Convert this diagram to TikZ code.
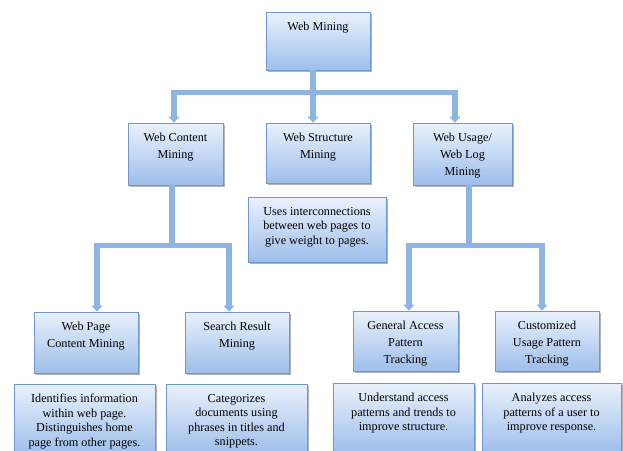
\documentclass[tikz,border=0pt]{standalone}
\usepackage{fontspec}
\setmainfont{Liberation Serif}
\usetikzlibrary{shadows,arrows.meta}
\definecolor{boxline}{RGB}{112,152,208}
\definecolor{boxtop}{RGB}{234,241,252}
\definecolor{boxbot}{RGB}{158,190,235}
\definecolor{linkblue}{RGB}{141,180,226}
\begin{document}
\begin{tikzpicture}[x=1pt, y=-1pt,
  box/.style={draw=boxline, thick, top color=boxtop, bottom color=boxbot, inner sep=0pt,
    drop shadow={shadow xshift=1.5pt, shadow yshift=-1.5pt, fill=black!50, opacity=0.6}},
  head/.style={anchor=north, yshift=-6.5pt, align=center, font=\fontsize{12.2}{17}\selectfont},
  note/.style={anchor=north, yshift=-7pt, align=center, font=\fontsize{12.2}{14.5}\selectfont},
  link/.style={draw=linkblue, line width=5.5pt},
  arr/.style={link, -{Triangle[length=6pt,width=11pt]}}]
\useasboundingbox (0,0) rectangle (623,450);
\clip (0,0) rectangle (623,450);
% top levels
\node[box, minimum width=104pt, minimum height=58pt, label={[head]north:Web Mining}] (web) at (318,41) {};
\node[box, minimum width=95pt, minimum height=62pt, label={[head]north:Web Content\\Mining}] (wcm) at (175.5,154) {};
\node[box, minimum width=104pt, minimum height=60pt, label={[head]north:Web Structure\\Mining}] (wsm) at (318,153) {};
\node[box, minimum width=99pt, minimum height=62pt, label={[head]north:Web Usage/\\Web Log\\Mining}] (wum) at (462.5,154) {};
\node[box, minimum width=138pt, minimum height=65pt, label={[note]north:Uses interconnections\\between web pages to\\give weight to pages.}] (wsmnote) at (317,229.5) {};
% leaves
\node[box, minimum width=104pt, minimum height=61pt, label={[head]north:Web Page\\Content Mining}] (wpc) at (86,342.5) {};
\node[box, minimum width=104pt, minimum height=61pt, label={[head]north:Search Result\\Mining}] (srm) at (237,342.5) {};
\node[box, minimum width=105pt, minimum height=60pt, label={[head]north:General Access\\Pattern\\Tracking}] (gapt) at (405.5,341) {};
\node[box, minimum width=104pt, minimum height=60pt, label={[head]north:Customized\\Usage Pattern\\Tracking}] (cupt) at (547,341) {};
\node[box, minimum width=141pt, minimum height=70pt, label={[note]north:Identifies information\\within web page.\\Distinguishes home\\page from other pages.}] (wpcnote) at (84.5,419) {};
\node[box, minimum width=141pt, minimum height=70pt, label={[note]north:Categorizes\\documents using\\phrases in titles and\\snippets.}] (srmnote) at (236.5,419) {};
\node[box, minimum width=141pt, minimum height=70pt, label={[note]north:Understand access\\patterns and trends to\\improve structure.}] (gaptnote) at (403.5,418) {};
\node[box, minimum width=139pt, minimum height=70pt, label={[note]north:Analyzes access\\patterns of a user to\\improve response.}] (cuptnote) at (551.5,418) {};
% connectors
\draw[link] ([xshift=-5pt]web.south) -- ++(0,22) coordinate (j1);
\draw[arr] (j1) -| ([xshift=-1.5pt]wcm.north);
\draw[arr] (j1) -- ([xshift=-5pt]wsm.north);
\draw[arr] (j1) -| ([xshift=-7.5pt]wum.north);
\draw[link] ([xshift=-3.5pt]wcm.south) -- ++(0,60) coordinate (j2);
\draw[arr] (j2) -| ([xshift=11pt]wpc.north);
\draw[arr] (j2) -| ([xshift=-8pt]srm.north);
\draw[link] ([xshift=6.5pt]wum.south) -- ++(0,60) coordinate (j3);
\draw[arr] (j3) -| ([xshift=3.5pt]gapt.north);
\draw[arr] (j3) -| ([xshift=-5pt]cupt.north);
\end{tikzpicture}
\end{document}
